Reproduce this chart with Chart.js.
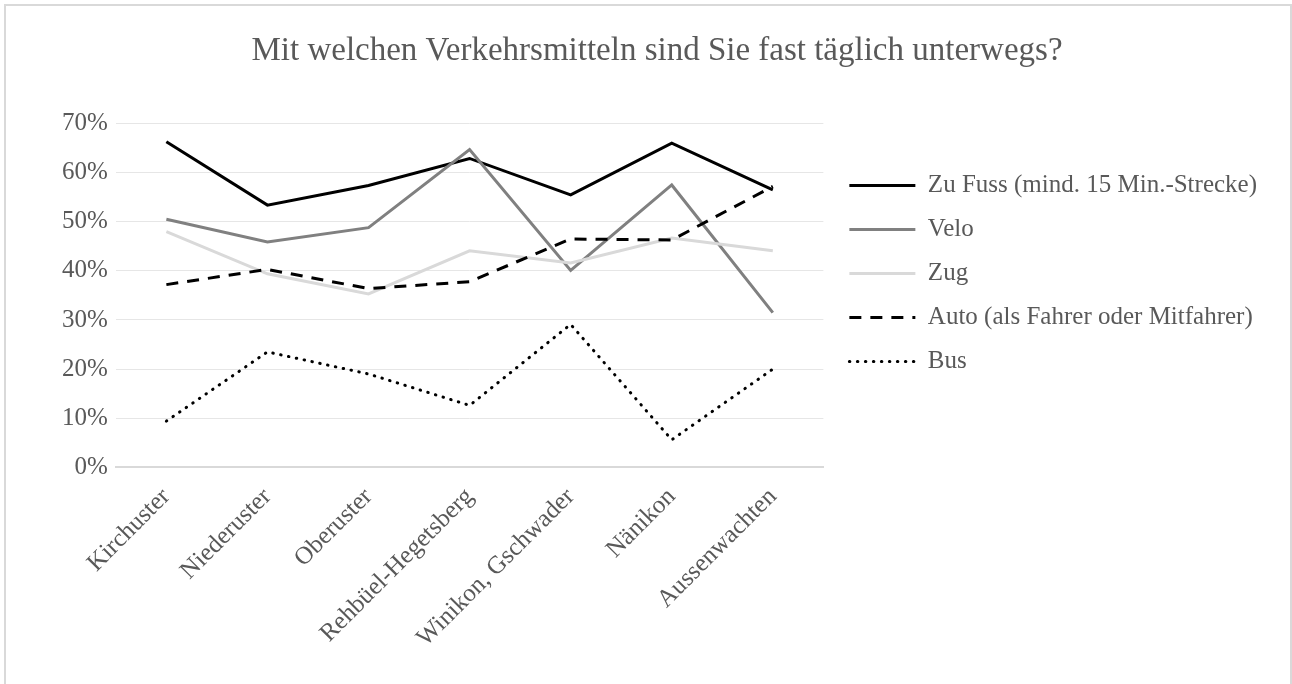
<!DOCTYPE html>
<html>
<head>
<meta charset="utf-8">
<script src="https://cdn.jsdelivr.net/npm/chart.js@4.4.1/dist/chart.umd.min.js"></script>
<style>
  html, body { margin: 0; padding: 0; background: #fff; overflow: hidden; }
  #frame {
    position: absolute; left: 4px; top: 4px;
    width: 1288px; height: 700px;
    border: 2px solid #d9d9d9; box-sizing: border-box;
  }
  #wrap { position: relative; width: 1284px; height: 678px; }
</style>
</head>
<body>
<div id="frame"><div id="wrap"><canvas id="chart"></canvas></div></div>
<script>
/* ====================
   DATA
==================== */
const categories = ["Kirchuster", "Niederuster", "Oberuster", "Rehbüel-Hegetsberg", "Winikon, Gschwader", "Nänikon", "Aussenwachten"];
const seriesNames = ["Zu Fuss (mind. 15 Min.-Strecke)", "Velo", "Zug", "Auto (als Fahrer oder Mitfahrer)", "Bus"];

const zuFuss = [66.3, 53.4, 57.4, 62.9, 55.5, 66.0, 56.5];
const velo   = [50.5, 45.9, 48.8, 64.7, 40.1, 57.5, 31.5];
const zug    = [48.0, 39.4, 35.3, 44.1, 41.6, 46.7, 44.1];
const auto   = [37.2, 40.3, 36.4, 37.8, 46.5, 46.3, 57.2];
const bus    = [9.4, 23.5, 19.0, 12.6, 29.1, 5.6, 20.0];

const yTicks = [0, 10, 20, 30, 40, 50, 60, 70];

/* ====================
   STYLE
==================== */
const textColor = "#595959";
Chart.defaults.font.family = "'Liberation Serif', 'Times New Roman', serif";
Chart.defaults.color = textColor;

function series(label, data, color, order, extra = {}) {
  return {
    label,
    data,
    borderColor: color,
    backgroundColor: color,
    borderWidth: 3,
    pointRadius: 0,
    pointHoverRadius: 0,
    tension: 0,
    fill: false,
    order,
    ...extra
  };
}

// legend entries should show the dash pattern of their line
function legendLabels(chart) {
  return Chart.defaults.plugins.legend.labels.generateLabels(chart).map(item => {
    const ds = chart.data.datasets[item.datasetIndex];
    item.lineDash = ds.borderDash || [];
    item.lineCap = ds.borderCapStyle || "butt";
    item.lineWidth = ds.borderWidth;
    item.strokeStyle = ds.borderColor;
    return item;
  });
}

// move the legend next to the plot like in the original
const legendNudge = {
  id: "legendNudge",
  afterLayout(chart) {
    const lg = chart.legend;
    const area = chart.chartArea;
    lg.left = area.right + 7;
    lg.top = area.top + 30.5;
  }
};

new Chart(document.getElementById("chart"), {
  type: "line",
  data: {
    labels: categories,
    datasets: [
      series(seriesNames[0], zuFuss, "#000000", 5),
      series(seriesNames[1], velo, "#808080", 4),
      series(seriesNames[2], zug, "#d9d9d9", 3),
      series(seriesNames[3], auto, "#000000", 2, { borderDash: [12, 9] }),
      series(seriesNames[4], bus, "#000000", 1, { borderDash: [0.5, 7.5], borderCapStyle: "round" })
    ]
  },
  options: {
    responsive: true,
    maintainAspectRatio: false,
    animation: false,
    layout: { padding: { left: 48, right: 30, top: 0, bottom: 16 } },
    plugins: {
      tooltip: { enabled: false },
      title: {
        display: true,
        text: "Mit welchen Verkehrsmitteln sind Sie fast täglich unterwegs?",
        color: textColor,
        font: { size: 33, weight: "normal" },
        padding: { top: 26, bottom: 52 }
      },
      legend: {
        position: "right",
        align: "start",
        maxWidth: 600,
        labels: {
          usePointStyle: true,
          pointStyle: "line",
          pointStyleWidth: 66,
          padding: 19,
          color: textColor,
          font: { size: 25 },
          generateLabels: legendLabels,
          sort: (a, b) => a.datasetIndex - b.datasetIndex
        }
      }
    },
    scales: {
      x: {
        offset: true,
        grid: { display: false, drawTicks: false },
        border: { display: true, color: "#d9d9d9", width: 2 },
        ticks: {
          minRotation: 45,
          maxRotation: 45,
          autoSkip: false,
          padding: 15,
          color: textColor,
          font: { size: 25 }
        }
      },
      y: {
        min: yTicks[0],
        max: yTicks[yTicks.length - 1],
        afterBuildTicks: axis => { axis.ticks = yTicks.map(v => ({ value: v })); },
        grid: { color: "#e6e6e6", lineWidth: 1, drawTicks: false },
        border: { display: false },
        ticks: {
          padding: 8,
          color: textColor,
          font: { size: 25 },
          callback: v => v + "%"
        }
      }
    }
  },
  plugins: [legendNudge]
});
</script>
</body>
</html>
